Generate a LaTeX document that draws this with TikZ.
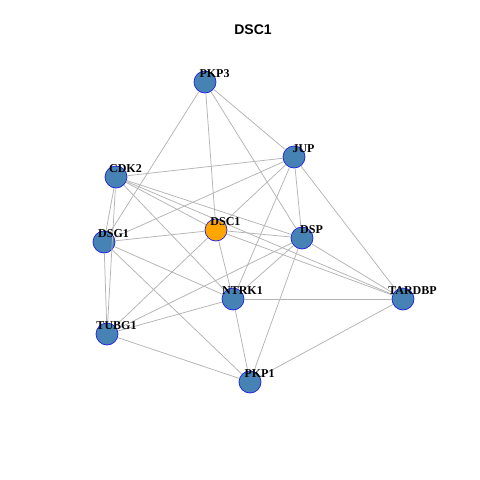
\documentclass[tikz,border=0pt]{standalone}
\usepackage{fontspec}
\setmainfont{Liberation Serif}
\newfontfamily\titlefont{Liberation Sans}
\definecolor{steel}{RGB}{70,130,180}
\definecolor{vorange}{RGB}{255,165,0}
\definecolor{edgegray}{RGB}{180,180,180}
\definecolor{vborder}{RGB}{30,30,230}
\begin{document}
\begin{tikzpicture}[x=1pt,y=-1pt,
  vert/.style={circle,draw=vborder,line width=0.7pt,fill=steel,minimum size=22pt,inner sep=0pt},
  seed/.style={vert,fill=vorange},
  lab/.style={font=\bfseries\fontsize{12}{12}\selectfont,text=black,xshift=9.5pt,yshift=8pt},
  edge/.style={draw=edgegray,line width=0.75pt}]
\useasboundingbox[fill=white] (0,0) rectangle (480,480);
\node[font=\titlefont\bfseries\fontsize{14}{14}\selectfont] (title) at (253,30) {DSC1};
\node[vert] (PKP3) at (205,82) {};
\node[vert] (JUP) at (294,157) {};
\node[vert] (CDK2) at (116,177) {};
\node[seed] (DSC1) at (216,230) {};
\node[vert] (DSP) at (302,238) {};
\node[vert] (DSG1) at (104,242) {};
\node[vert] (NTRK1) at (233,299) {};
\node[vert] (TARDBP) at (403,299) {};
\node[vert] (TUBG1) at (107,334) {};
\node[vert] (PKP1) at (250,382) {};
\foreach \a/\b in {PKP3/JUP,PKP3/DSG1,PKP3/DSC1,PKP3/DSP,
  JUP/CDK2,JUP/DSG1,JUP/DSC1,JUP/DSP,JUP/NTRK1,JUP/TARDBP,
  CDK2/DSG1,CDK2/TUBG1,CDK2/DSC1,CDK2/DSP,CDK2/TARDBP,CDK2/NTRK1,
  DSG1/DSC1,DSG1/TUBG1,DSG1/NTRK1,DSG1/PKP1,
  DSC1/DSP,DSC1/TARDBP,DSC1/NTRK1,DSC1/TUBG1,
  DSP/NTRK1,DSP/TUBG1,DSP/PKP1,DSP/TARDBP,
  NTRK1/TARDBP,NTRK1/TUBG1,NTRK1/PKP1,TUBG1/PKP1,TARDBP/PKP1}
  \draw[edge] (\a) -- (\b);
\foreach \n in {PKP3,JUP,CDK2,DSC1,DSP,DSG1,NTRK1,TARDBP,TUBG1,PKP1}
  \node[lab] (lab\n) at (\n) {\n};
\end{tikzpicture}
\end{document}
